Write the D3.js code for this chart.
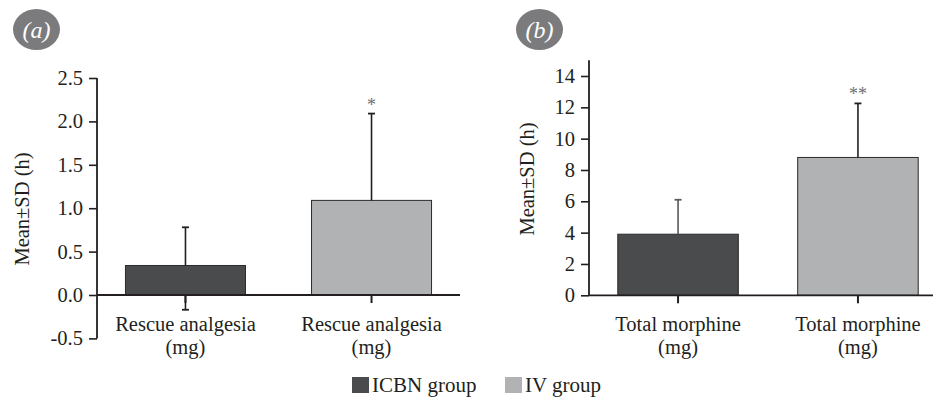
<!DOCTYPE html>
<html>
<head>
<meta charset="utf-8">
<script src="https://cdn.jsdelivr.net/npm/d3@7"></script>
<style>
  body { margin: 0; background: #fff; }
</style>
</head>
<body>
<div id="chart"></div>
<script>
/* ---- data ---- */
const groups = ['ICBN group', 'IV group'];
const groupColors = ['#4a4b4d', '#b1b2b4'];

const rescueCategories = ['Rescue analgesia', 'Rescue analgesia'];
const rescueMeans = [0.34, 1.09];
const rescueUpper = [0.78, 2.09];
const rescueLower = [-0.17, null];
const rescueStars = ['', '*'];
const rescueTicks = [-0.5, 0.0, 0.5, 1.0, 1.5, 2.0, 2.5];

const morphineCategories = ['Total morphine', 'Total morphine'];
const morphineMeans = [3.9, 8.8];
const morphineUpper = [6.1, 12.25];
const morphineLower = [null, null];
const morphineStars = ['', '**'];
const morphineTicks = [0, 2, 4, 6, 8, 10, 12, 14];

const W = 933, H = 397;
const FONT = '"Liberation Serif", "Times New Roman", Times, serif';
const INK = '#231f20';

const svg = d3.select('#chart').append('svg')
    .attr('width', W).attr('height', H);

// helper so every label gets the serif face directly
function label(sel, size) {
    return sel.style('font-family', FONT).style('font-size', size + 'px').style('fill', INK);
}

function drawPanel(p) {
    const g = svg.append('g');

    const y = d3.scaleLinear().domain(p.yDomain).range(p.yRange);
    const x = d3.scaleBand().domain([0, 1]).range(p.xRange)
        .paddingInner(p.padInner).paddingOuter(p.padOuter);

    // badge
    g.append('ellipse').attr('cx', p.badge[0]).attr('cy', p.badge[1])
        .attr('rx', 23.5).attr('ry', 20.5).attr('fill', '#7b7b7d');
    label(g.append('text'), 24).attr('x', p.badge[0]).attr('y', p.badge[1] + 8)
        .attr('text-anchor', 'middle')
        .style('font-style', 'italic').style('fill', '#fff').text(p.letter);

    // bars
    p.means.forEach((m, i) => {
        g.append('rect')
            .attr('x', x(i)).attr('width', x.bandwidth())
            .attr('y', y(m)).attr('height', y(0) - y(m))
            .attr('fill', groupColors[i]).attr('stroke', '#2b2b2b').attr('stroke-width', 1);
    });

    // error bars
    p.means.forEach((m, i) => {
        const cx = x(i) + x.bandwidth() / 2;
        const col = p.errColors[i];
        g.append('line').attr('x1', cx).attr('x2', cx)
            .attr('y1', y(m)).attr('y2', y(p.upper[i]))
            .attr('stroke', col).attr('stroke-width', 1.6);
        g.append('line').attr('x1', cx - 3.5).attr('x2', cx + 3.5)
            .attr('y1', y(p.upper[i])).attr('y2', y(p.upper[i]))
            .attr('stroke', col).attr('stroke-width', 1.8);
        if (p.lower[i] !== null) {
            g.append('line').attr('x1', cx).attr('x2', cx)
                .attr('y1', y(0)).attr('y2', y(p.lower[i]))
                .attr('stroke', col).attr('stroke-width', 1.6);
            g.append('line').attr('x1', cx - 3.5).attr('x2', cx + 3.5)
                .attr('y1', y(p.lower[i])).attr('y2', y(p.lower[i]))
                .attr('stroke', col).attr('stroke-width', 1.8);
        }
        if (p.stars[i]) {
            label(g.append('text'), 18).attr('x', cx).attr('y', y(p.upper[i]) - 3)
                .attr('text-anchor', 'middle')
                .style('fill', '#6d6e70').text(p.stars[i]);
        }
    });

    // y axis
    const yAxis = g.append('g')
        .attr('transform', `translate(${p.xRange[0]},0)`)
        .call(d3.axisLeft(y).tickValues(p.ticks).tickSize(8).tickPadding(6)
            .tickFormat(d => p.fmt(d).replace('\u2212', '-')));
    yAxis.select('.domain').attr('d', `M0,${y(p.axisTop)}V${y(p.axisBottom)}`)
        .attr('stroke', INK).attr('stroke-width', 1.8);
    yAxis.selectAll('.tick line').attr('stroke', INK).attr('stroke-width', 1.6);
    label(yAxis.selectAll('.tick text'), 20.5);

    // x axis along zero
    const xAxis = g.append('g')
        .attr('transform', `translate(0,${y(0)})`)
        .call(d3.axisBottom(x).tickSize(8).tickSizeOuter(0).tickFormat(''));
    xAxis.select('.domain').attr('stroke', INK).attr('stroke-width', 1.8)
        .attr('d', `M${p.xRange[0]},0H${p.xRange[1]}`);
    xAxis.selectAll('.tick line').attr('stroke', INK).attr('stroke-width', 2);

    // category labels
    p.categories.forEach((c, i) => {
        const cx = x(i) + x.bandwidth() / 2;
        const t = label(g.append('text'), 20.5).attr('text-anchor', 'middle')
            .attr('x', cx).attr('y', p.catY);
        t.append('tspan').attr('x', cx).text(c);
        t.append('tspan').attr('x', cx).attr('dy', 23).text('(mg)');
    });

    // y axis title
    label(g.append('text'), 20.5)
        .attr('transform', `translate(${p.titlePos[0]},${p.titlePos[1]}) rotate(-90)`)
        .attr('text-anchor', 'middle').text('Mean±SD (h)');
}

drawPanel({
    letter: '(a)', badge: [36.5, 29.5],
    means: rescueMeans, upper: rescueUpper, lower: rescueLower, stars: rescueStars,
    categories: rescueCategories, ticks: rescueTicks, fmt: d3.format('.1f'),
    yDomain: [0, 2.5], yRange: [295, 78], axisTop: 2.5, axisBottom: -0.5,
    xRange: [97, 460], padInner: 0.355, padOuter: 0.153,
    errColors: [INK, INK],
    catY: 331, titlePos: [29, 209]
});

drawPanel({
    letter: '(b)', badge: [539.5, 29.5],
    means: morphineMeans, upper: morphineUpper, lower: morphineLower, stars: morphineStars,
    categories: morphineCategories, ticks: morphineTicks, fmt: d3.format('d'),
    yDomain: [0, 14], yRange: [295.3, 76], axisTop: 15, axisBottom: 0,
    xRange: [589, 947], padInner: 0.33, padOuter: 0.16,
    errColors: ['#58595b', INK],
    catY: 331, titlePos: [534, 179]
});

// legend
const legend = svg.append('g');
const legendX = [352, 505];
groups.forEach((gname, i) => {
    legend.append('rect').attr('x', legendX[i]).attr('y', 377)
        .attr('width', 17).attr('height', 16).attr('fill', groupColors[i]);
    label(legend.append('text'), 21)
        .attr('x', legendX[i] + 20).attr('y', 392).text(gname);
});
</script>
</body>
</html>
